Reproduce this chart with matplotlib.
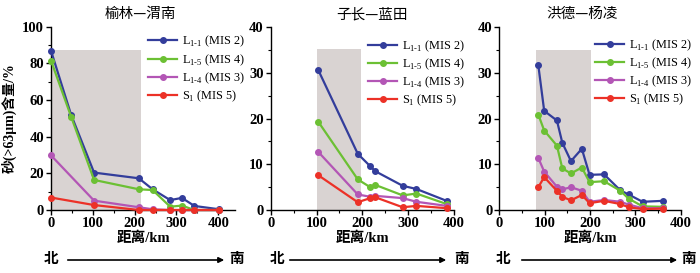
import numpy as np
import matplotlib
matplotlib.use('Agg')
import matplotlib.pyplot as plt
from matplotlib.patches import FancyArrowPatch
from matplotlib.ticker import MultipleLocator

plt.rcParams['font.family'] = ['Liberation Serif', 'Noto Sans CJK SC']
plt.rcParams['mathtext.fontset'] = 'custom'
plt.rcParams['mathtext.rm'] = 'Liberation Serif'

# 榆林—渭南
p1_x = [0, 48, 103, 210, 243, 285, 313, 343, 402]
p1_x2 = [0, 103, 210, 243, 285, 313, 343, 402]
p1_l11 = [86.9, 52, 20.4, 17.3, 11.3, 5.4, 6.6, 2.2, 0.4]
p1_l15 = [81.5, 51, 16.4, 11.3, 10.9, 1.8, 2.4, 0, 0]
p1_l14 = [29.8, 5.1, 1.5, 0.4, 0, 0, 0, 0]
p1_s1 = [6.8, 2.7, 0, 0, 0, 0, 0, 0]

# 子长—蓝田
p2_x = [104, 190, 217, 228, 288, 318, 384]
p2_l11 = [30.6, 12.3, 9.6, 8.5, 5.3, 4.6, 2.0]
p2_l15 = [19.3, 6.7, 5.0, 5.5, 3.2, 3.6, 1.3]
p2_l14 = [12.7, 3.4, 2.9, 3.1, 2.6, 1.8, 0.9]
p2_s1 = [7.6, 1.7, 2.6, 2.8, 0.6, 0.9, 0.4]

# 洪德—杨凌
p3_x = [86, 99, 127, 139, 158, 182, 199, 231, 267, 285, 316, 360]
p3_l11 = [31.7, 21.7, 19.6, 14.7, 10.7, 13.4, 7.7, 7.8, 4.3, 3.4, 1.8, 2.0]
p3_l15 = [20.9, 17.4, 14.1, 9.1, 8.0, 9.3, 6.1, 6.3, 4.2, 2.5, 0.8, 0.7]
p3_l14 = [11.4, 8.4, 5.1, 4.5, 5.0, 4.2, 1.8, 2.2, 1.8, 1.2, 0.4, 0.4]
p3_s1 = [5.0, 7.2, 4.2, 2.9, 2.1, 3.3, 1.5, 2.0, 1.3, 0.6, 0.2, 0.3]

titles = ['榆林—渭南', '子长—蓝田', '洪德—杨凌']
labels = [r'L$_{\rm 1\text{-}1}$ (MIS 2)', r'L$_{\rm 1\text{-}5}$ (MIS 4)',
          r'L$_{\rm 1\text{-}4}$ (MIS 3)', r'S$_{\rm 1}$ (MIS 5)']
colors = ['#333D9B', '#6CC034', '#B356B5', '#EC3127']

W, H = 700, 273
fig = plt.figure(figsize=(7, 2.73), dpi=100)

panels = [
    dict(rect=[51/W, 63/H, 184/W, 183.3/H], xlim=440, ylim=100, ymaj=20,
         shade=(0, 215, 87.3), lines=[(p1_x, p1_l11), (p1_x, p1_l15), (p1_x2, p1_l14), (p1_x2, p1_s1)],
         leg=(0.527, 0.96), title_x=140, arrow=(51, 65, 227, 237)),
    dict(rect=[270.7/W, 63/H, 183.3/W, 182.7/H], xlim=400, ylim=40, ymaj=10,
         shade=(100, 198, 35.2), lines=[(p2_x, p2_l11), (p2_x, p2_l15), (p2_x, p2_l14), (p2_x, p2_s1)],
         leg=(0.53, 0.94), title_x=372, arrow=(277, 287, 449, 462)),
    dict(rect=[499.3/W, 63/H, 181.4/W, 182.7/H], xlim=400, ylim=40, ymaj=10,
         shade=(81, 202, 35), lines=[(p3_x, p3_l11), (p3_x, p3_l15), (p3_x, p3_l14), (p3_x, p3_s1)],
         leg=(0.528, 0.945), title_x=582, arrow=(503, 519, 680, 689)),
]

for i, p in enumerate(panels):
    ax = fig.add_axes(p['rect'])
    x0, x1, top = p['shade']
    ax.fill_between([x0, x1], 0, top, color='#D9D3D2', lw=0, zorder=0)
    hs = []
    for (xs, ys), c, lab in zip(p['lines'], colors, labels):
        h, = ax.plot(xs, ys, '-o', color=c, lw=1.6, ms=4, label=lab, clip_on=False, zorder=3)
        hs.append(h)
    ax.set_xlim(0, p['xlim'])
    ax.set_ylim(0, p['ylim'])
    ax.xaxis.set_major_locator(MultipleLocator(100))
    ax.xaxis.set_minor_locator(MultipleLocator(50))
    ax.yaxis.set_major_locator(MultipleLocator(p['ymaj']))
    ax.yaxis.set_minor_locator(MultipleLocator(p['ymaj'] / 2))
    ax.set_xticks(np.arange(0, 401, 100))
    for s in ['top', 'right']:
        ax.spines[s].set_visible(False)
    for s in ['left', 'bottom']:
        ax.spines[s].set_linewidth(1.0)
    ax.tick_params(which='major', direction='out', length=3.5, width=1, labelsize=10.5, pad=1.5)
    ax.tick_params(which='minor', direction='out', length=2, width=0.8)
    for t in ax.get_xticklabels() + ax.get_yticklabels():
        t.set_fontweight('bold')
    ax.set_xlabel('距离/km', fontsize=10.5, fontweight='bold', labelpad=1)
    ax.legend(handles=hs, loc='upper left', bbox_to_anchor=p['leg'], frameon=False,
              fontsize=8.8, handlelength=2.4, handletextpad=0.4, labelspacing=0.22,
              borderaxespad=0, borderpad=0)
    fig.text(p['title_x'] / W, 1 - 14 / H, titles[i], ha='center', va='center',
             fontsize=10.5, fontweight='medium', family=['Noto Sans CJK SC'])
    # 北 -> 南
    bx, a0, a1, nx = p['arrow']
    y = 1 - 260 / H
    fig.text(bx / W, y, '北', ha='center', va='center', fontsize=10.5, fontweight='bold')
    fig.text(nx / W, y, '南', ha='center', va='center', fontsize=10.5, fontweight='bold')
    fig.add_artist(FancyArrowPatch((a0 / W, y), (a1 / W, y), transform=fig.transFigure,
                                   arrowstyle='-|>', mutation_scale=8, lw=1.2, color='black'))
    if i == 0:
        ax.set_ylabel('砂(>63μm)含量/%', fontsize=10, fontweight='bold', labelpad=4)

fig.savefig('out.png', dpi=100)
